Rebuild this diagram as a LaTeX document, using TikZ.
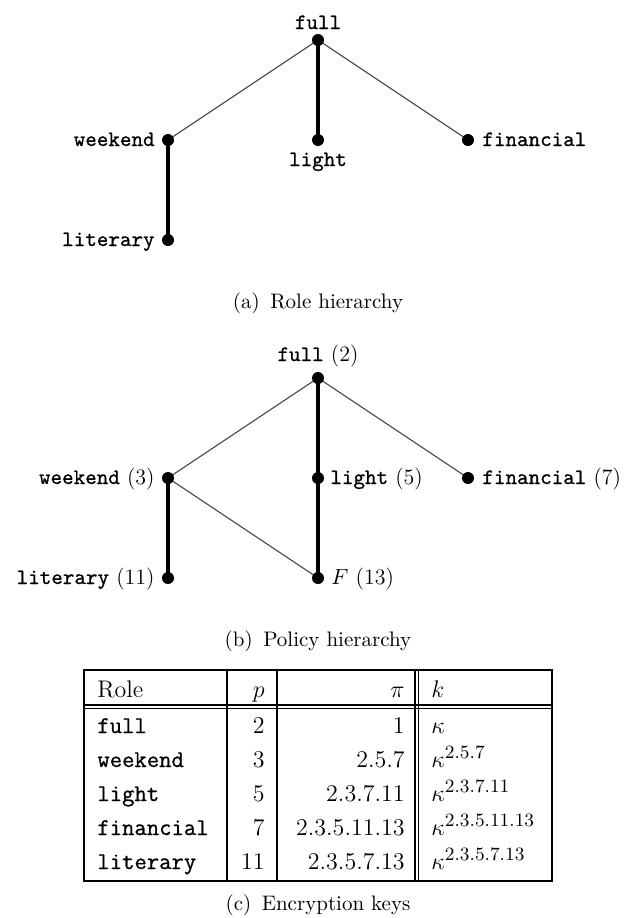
\documentclass[tikz,border=0pt]{standalone}
\usepackage{fontspec}
\setmonofont{Latin Modern Mono}[FakeBold=0.8]
\usetikzlibrary{backgrounds}

% exponent in the key column, set a little larger than scriptstyle
\newcommand{\keyexp}[1]{\mbox{\fontsize{9.4}{10}\selectfont #1}}

\begin{document}
\begin{tikzpicture}[x=0.5pt,y=-0.5pt,
  dot/.style={circle,fill=black,inner sep=0pt,minimum size=6pt},
  heavy edge/.style={line width=2pt},
  light edge/.style={line width=0.6pt,draw=black!70},
  lbl/.style={font=\fontsize{11}{13}\selectfont,inner sep=0pt},
  captext/.style={font=\fontsize{10.5}{12}\selectfont,inner sep=0pt,anchor=base},
  cell/.style={font=\fontsize{12}{14}\selectfont,inner sep=0pt},
  rule/.style={line width=0.8pt}]
\useasboundingbox (0,0) rectangle (637,918);

% ---------- (a) role hierarchy ----------
\node[dot] (a-full)      at (318,40)  {};
\node[dot] (a-weekend)   at (168,140) {};
\node[dot] (a-light)     at (318,140) {};
\node[dot] (a-financial) at (468,140) {};
\node[dot] (a-literary)  at (168,240) {};

\node[lbl,anchor=base]      (a-full-t)      at (318,29)  {\texttt{full}};
\node[lbl,anchor=base east] (a-weekend-t)   at (155,146) {\texttt{weekend}};
\node[lbl,anchor=base]      (a-light-t)     at (318,166) {\texttt{light}};
\node[lbl,anchor=base west] (a-financial-t) at (482,146) {\texttt{financial}};
\node[lbl,anchor=base east] (a-literary-t)  at (155,246) {\texttt{literary}};

\begin{pgfonlayer}{background}
  \draw[light edge] (a-full.center) -- (a-weekend.center);
  \draw[heavy edge] (a-full.center) -- (a-light.center);
  \draw[light edge] (a-full.center) -- (a-financial.center);
  \draw[heavy edge] (a-weekend.center) -- (a-literary.center);
\end{pgfonlayer}

\node[captext] (cap-a) at (318,308) {(a)\enspace Role hierarchy};

% ---------- (b) policy hierarchy ----------
\node[dot] (b-full)      at (318,378) {};
\node[dot] (b-weekend)   at (168,478) {};
\node[dot] (b-light)     at (318,478) {};
\node[dot] (b-financial) at (468,478) {};
\node[dot] (b-literary)  at (168,578) {};
\node[dot] (b-F)         at (318,578) {};

\node[lbl,anchor=base]      (b-full-t)      at (318,361) {\texttt{full} (2)};
\node[lbl,anchor=base east] (b-weekend-t)   at (155,484) {\texttt{weekend} (3)};
\node[lbl,anchor=base west] (b-light-t)     at (330,484) {\texttt{light} (5)};
\node[lbl,anchor=base west] (b-financial-t) at (482,484) {\texttt{financial} (7)};
\node[lbl,anchor=base east] (b-literary-t)  at (155,584) {\texttt{literary} (11)};
\node[lbl,anchor=base west] (b-F-t)         at (331,584) {$F$ (13)};

\begin{pgfonlayer}{background}
  \draw[light edge] (b-full.center) -- (b-weekend.center);
  \draw[heavy edge] (b-full.center) -- (b-light.center);
  \draw[heavy edge] (b-light.center) -- (b-F.center);
  \draw[light edge] (b-full.center) -- (b-financial.center);
  \draw[heavy edge] (b-weekend.center) -- (b-literary.center);
  \draw[light edge] (b-weekend.center) -- (b-F.center);
\end{pgfonlayer}

\node[captext] (cap-b) at (318,646) {(b)\enspace Policy hierarchy};

% ---------- (c) encryption keys table ----------
\draw[rule] (84,670) rectangle (552,881);
\draw[rule] (84,705) -- (552,705);
\draw[rule] (84,708.5) -- (552,708.5);
\draw[rule] (227,670) -- (227,881);
\draw[rule] (277,670) -- (277,881);
\draw[rule] (415,670) -- (415,881);
\draw[rule] (418.5,670) -- (418.5,881);

% header
\node[cell,anchor=base west] (h-role) at (97,697)  {Role};
\node[cell,anchor=base east] (h-p)    at (265,697) {$p$};
\node[cell,anchor=base east] (h-pi)   at (405,697) {$\pi$};
\node[cell,anchor=base west] (h-k)    at (431,697) {$k$};

% rows
\node[cell,anchor=base west] (r1-role) at (97,733)  {\texttt{full}};
\node[cell,anchor=base east] (r1-p)    at (265,733) {2};
\node[cell,anchor=base east] (r1-pi)   at (405,733) {1};
\node[cell,anchor=base west] (r1-k)    at (431,733) {$\kappa$};

\node[cell,anchor=base west] (r2-role) at (97,767)  {\texttt{weekend}};
\node[cell,anchor=base east] (r2-p)    at (265,767) {3};
\node[cell,anchor=base east] (r2-pi)   at (405,767) {2.5.7};
\node[cell,anchor=base west] (r2-k)    at (431,767) {$\kappa^{\keyexp{2.5.7}}$};

\node[cell,anchor=base west] (r3-role) at (97,801)  {\texttt{light}};
\node[cell,anchor=base east] (r3-p)    at (265,801) {5};
\node[cell,anchor=base east] (r3-pi)   at (405,801) {2.3.7.11};
\node[cell,anchor=base west] (r3-k)    at (431,801) {$\kappa^{\keyexp{2.3.7.11}}$};

\node[cell,anchor=base west] (r4-role) at (97,835)  {\texttt{financial}};
\node[cell,anchor=base east] (r4-p)    at (265,835) {7};
\node[cell,anchor=base east] (r4-pi)   at (405,835) {2.3.5.11.13};
\node[cell,anchor=base west] (r4-k)    at (431,835) {$\kappa^{\keyexp{2.3.5.11.13}}$};

\node[cell,anchor=base west] (r5-role) at (97,869)  {\texttt{literary}};
\node[cell,anchor=base east] (r5-p)    at (265,869) {11};
\node[cell,anchor=base east] (r5-pi)   at (405,869) {2.3.5.7.13};
\node[cell,anchor=base west] (r5-k)    at (431,869) {$\kappa^{\keyexp{2.3.5.7.13}}$};

\node[captext] (cap-c) at (318,910) {(c)\enspace Encryption keys};
\end{tikzpicture}
\end{document}
